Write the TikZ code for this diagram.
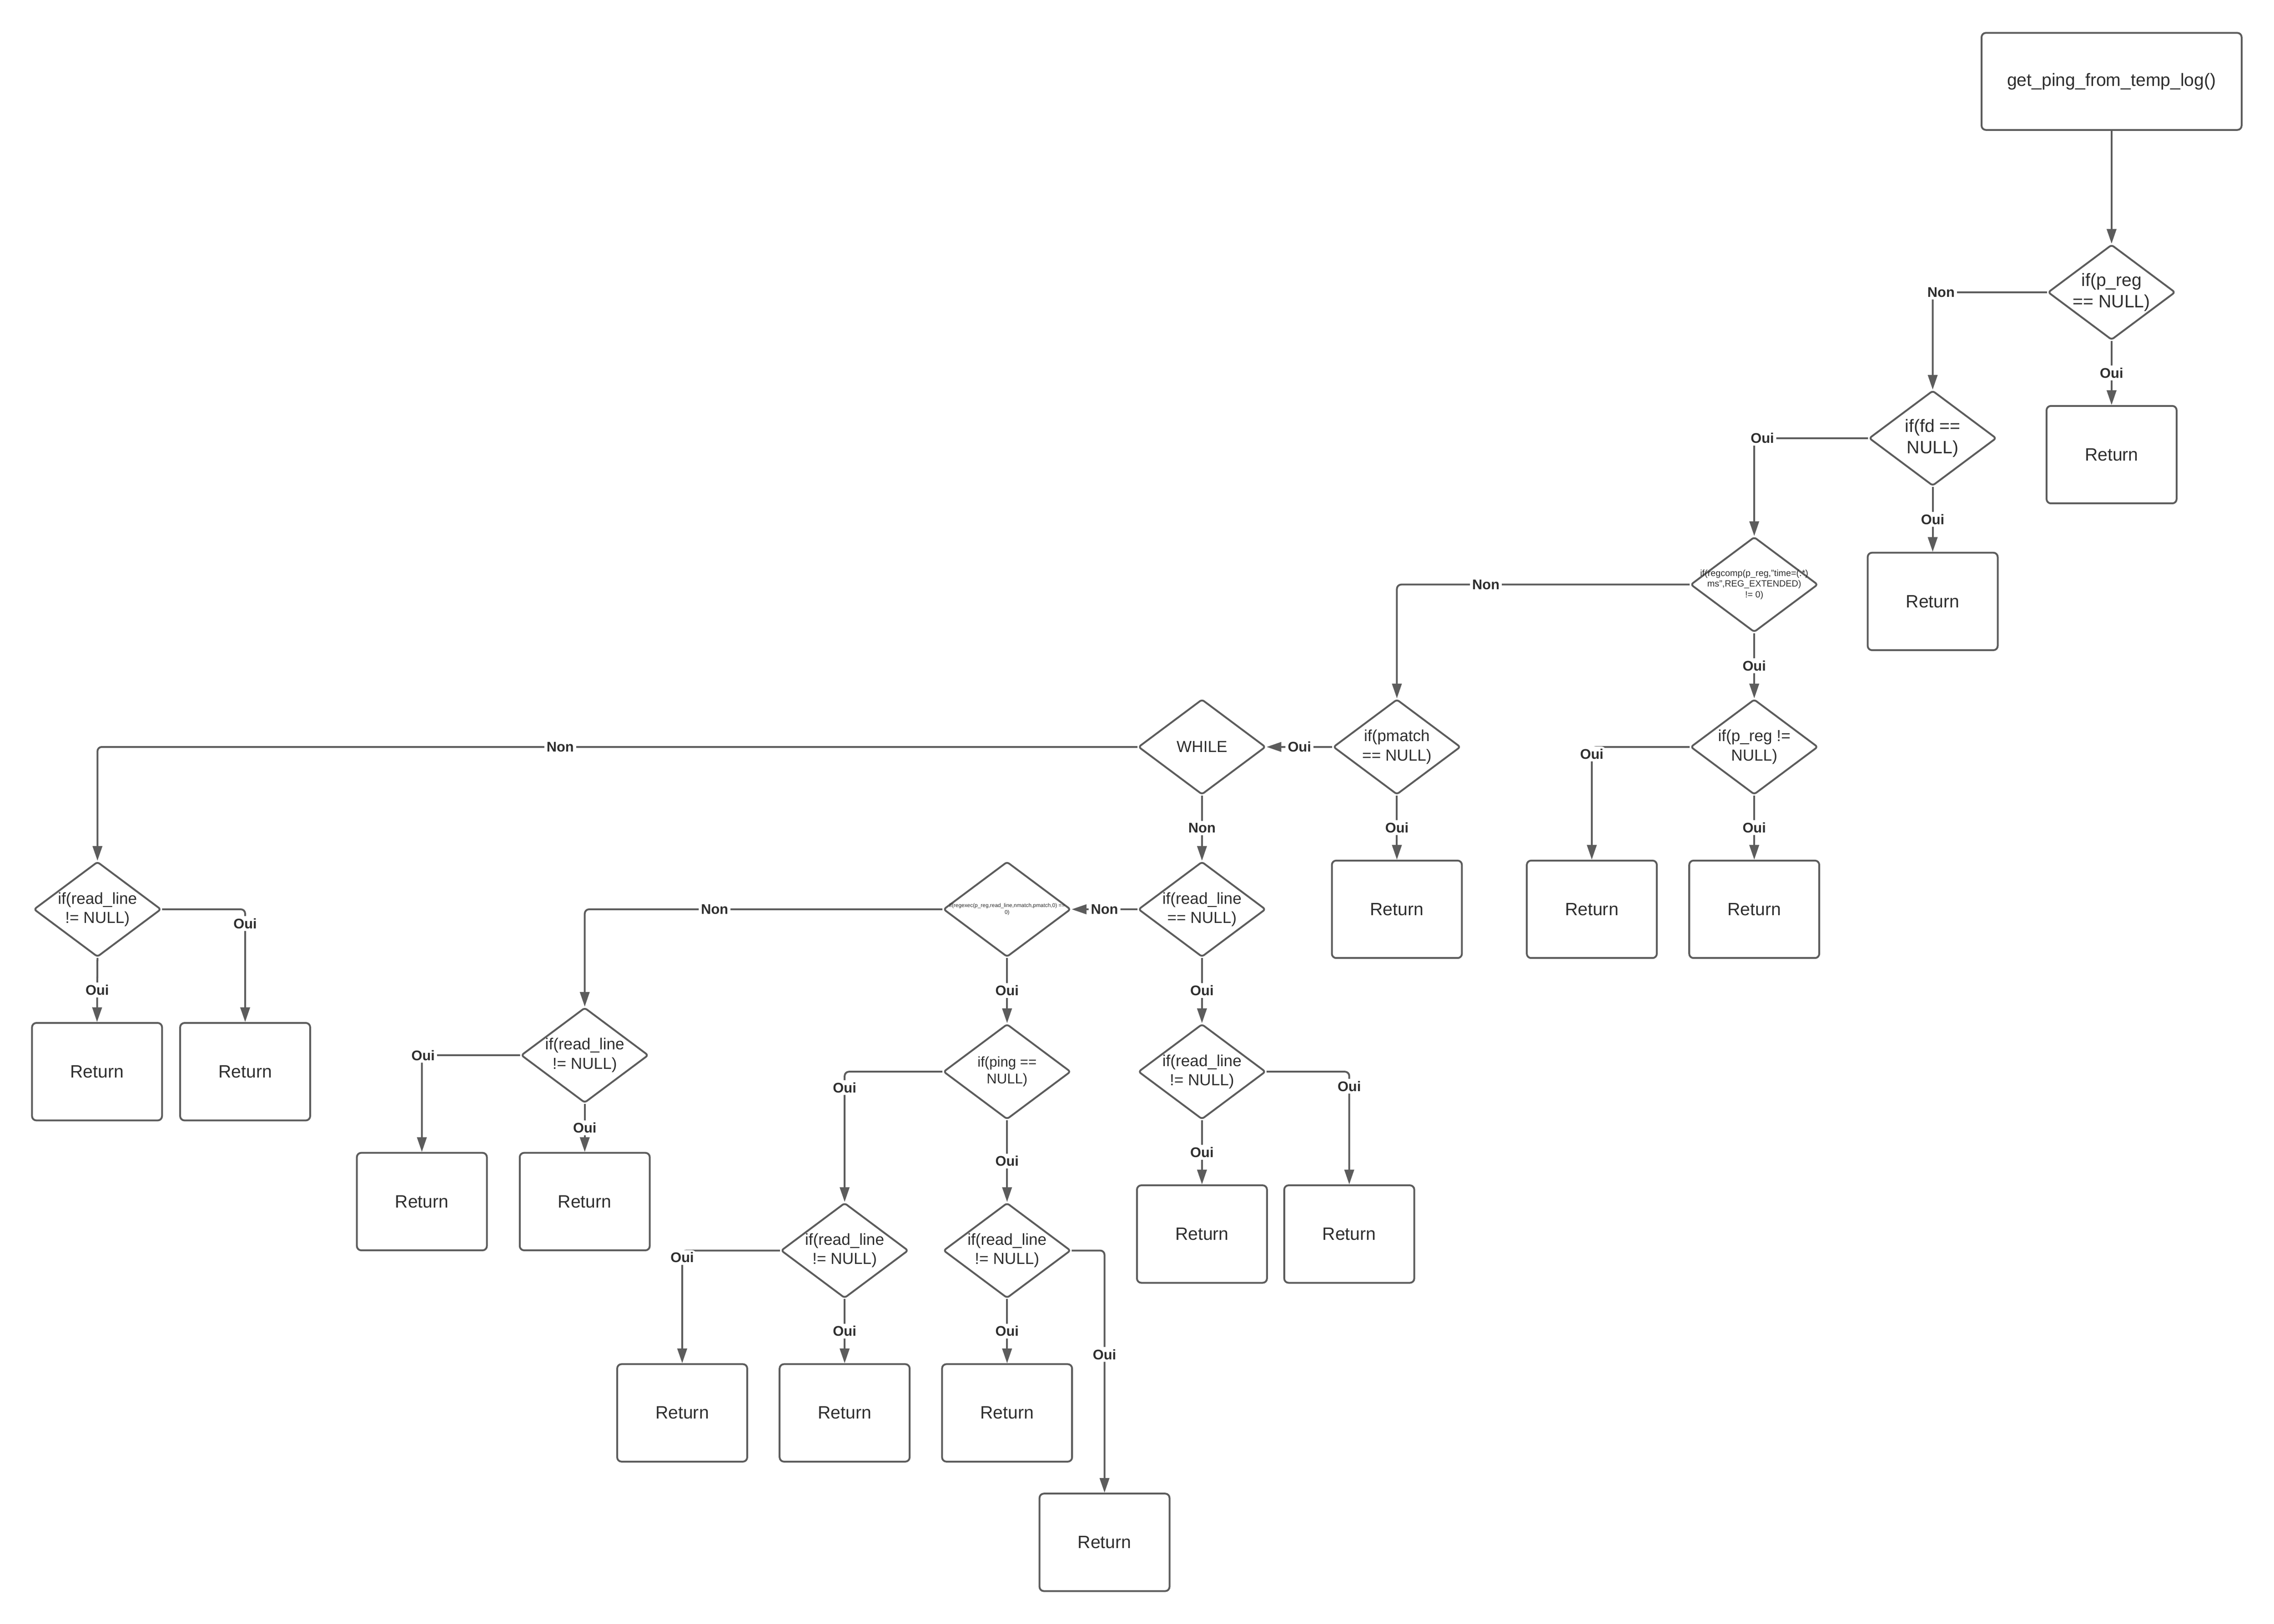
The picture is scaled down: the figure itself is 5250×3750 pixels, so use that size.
\documentclass[tikz,border=0pt]{standalone}
\usepackage{fontspec}
\setmainfont{Liberation Sans}
\usetikzlibrary{shapes.geometric,arrows.meta}
\definecolor{lc}{HTML}{5C5C5C}
\definecolor{tc}{HTML}{2E2E2E}
\begin{document}
\begin{tikzpicture}[x=0.01cm,y=-0.01cm,
  box/.style={draw=lc, line width=1.2pt, rounded corners=0.1cm, minimum width=3cm, minimum height=2.25cm, inner sep=0pt, text=tc, font=\fontsize{11.7}{14}\selectfont},
  dia/.style={shape=diamond, draw=lc, line width=1.2pt, rounded corners=0.06cm, minimum width=2.94cm, minimum height=2.2cm, inner sep=0pt},
  dtext/.style={align=center, text=tc, inner sep=0pt, font=\fontsize{10.5}{12.6}\selectfont},
  bigtext/.style={dtext, font=\fontsize{11.7}{14}\selectfont},
  conn/.style={draw=lc, line width=1.2pt, rounded corners=0.1cm, -{Triangle[length=0.34cm,width=0.22cm]}},
  lab/.style={fill=white, text=tc, inner sep=1.5pt, font=\bfseries\fontsize{9.2}{11}\selectfont}
]
\useasboundingbox (0,0) rectangle (5250,3750);

% start
\node[box, minimum width=6cm, minimum height=2.24cm] (S) at (4875,188) {get\_ping\_from\_temp\_log()};

% diamonds
\node[dia] (D1) at (4875,675) {};
\node[bigtext] (T1) at (D1) {if(p\_reg\\== NULL)};
\node[dia] (D2) at (4462,1012) {};
\node[bigtext] (T2) at (D2) {if(fd ==\\NULL)};
\node[dia] (D3) at (4050,1350) {};
\node[dtext, font=\fontsize{5.9}{7.1}\selectfont] (T3) at (D3) {if(regcomp(p\_reg,"time=(.*)\\ms",REG\_EXTENDED)\\!= 0)};
\node[dia] (D4) at (4050,1725) {};
\node[dtext] (T4) at (D4) {if(p\_reg !=\\NULL)};
\node[dia] (D5) at (3225,1725) {};
\node[dtext] (T5) at (D5) {if(pmatch\\== NULL)};
\node[dia] (D6) at (2775,1725) {};
\node[dtext] (T6) at (D6) {WHILE};
\node[dia] (D7) at (2775,2100) {};
\node[dtext] (T7) at (D7) {if(read\_line\\== NULL)};
\node[dia] (D8) at (2325,2100) {};
\node[dtext, font=\fontsize{3.55}{4.3}\selectfont] (T8) at (D8) {if(regexec(p\_reg,read\_line,nmatch,pmatch,0) ==\\0)};
\node[dia] (D9) at (225,2100) {};
\node[dtext] (T9) at (D9) {if(read\_line\\!= NULL)};
\node[dia] (D10) at (1350,2437) {};
\node[dtext] (T10) at (D10) {if(read\_line\\!= NULL)};
\node[dia] (D11) at (2325,2475) {};
\node[dtext, font=\fontsize{9.3}{11.2}\selectfont] (T11) at (D11) {if(ping ==\\NULL)};
\node[dia] (D12) at (2775,2475) {};
\node[dtext] (T12) at (D12) {if(read\_line\\!= NULL)};
\node[dia] (D13) at (1950,2888) {};
\node[dtext] (T13) at (D13) {if(read\_line\\!= NULL)};
\node[dia] (D14) at (2325,2888) {};
\node[dtext] (T14) at (D14) {if(read\_line\\!= NULL)};

% return boxes
\node[box] (R1) at (4875,1050) {Return};
\node[box] (R2) at (4462,1389) {Return};
\node[box] (R3) at (3675,2100) {Return};
\node[box] (R4) at (4050,2100) {Return};
\node[box] (R5) at (3225,2100) {Return};
\node[box] (R6) at (224,2475) {Return};
\node[box] (R7) at (566,2475) {Return};
\node[box] (R8) at (974,2775) {Return};
\node[box] (R9) at (1350,2775) {Return};
\node[box] (R10) at (2775,2850) {Return};
\node[box] (R11) at (3115,2850) {Return};
\node[box] (R12) at (1575,3263) {Return};
\node[box] (R13) at (1950,3263) {Return};
\node[box] (R14) at (2325,3263) {Return};
\node[box] (R15) at (2550,3562) {Return};

% connectors
\draw[conn] (S.south) -- (D1.north);
\draw[conn] (D1.south) -- node[lab]{Oui} (R1.north);
\draw[conn] (D1.west) -- node[lab,pos=0.927]{Non} (D1.west -| D2.north) -- (D2.north);
\draw[conn] (D2.south) -- node[lab]{Oui} (R2.north);
\draw[conn] (D2.west) -- node[lab,pos=0.929]{Oui} (D2.west -| D3.north) -- (D3.north);
\draw[conn] (D3.south) -- node[lab]{Oui} (D4.north);
\draw[conn] (D3.west) -- node[lab,pos=0.696]{Non} (D3.west -| D5.north) -- (D5.north);
\draw[conn] (D4.south) -- node[lab]{Oui} (R4.north);
\draw[conn] (D4.west) -- (D4.west -| R3.north) -- node[lab,pos=0.062]{Oui} (R3.north);
\draw[conn] (D5.south) -- node[lab]{Oui} (R5.north);
\draw[conn] (D5.west) -- node[lab]{Oui} (D6.east);
\draw[conn] (D6.west) -- node[lab,pos=0.555]{Non} (D6.west -| D9.north) -- (D9.north);
\draw[conn] (D6.south) -- node[lab]{Non} (D7.north);
\draw[conn] (D7.west) -- node[lab]{Non} (D8.east);
\draw[conn] (D7.south) -- node[lab]{Oui} (D12.north);
\draw[conn] (D8.west) -- node[lab,pos=0.637]{Non} (D8.west -| D10.north) -- (D10.north);
\draw[conn] (D8.south) -- node[lab]{Oui} (D11.north);
\draw[conn] (D9.south) -- node[lab]{Oui} (R6.north);
\draw[conn] (D9.east) -- (D9.east -| R7.north) -- node[lab,pos=0.126]{Oui} (R7.north);
\draw[conn] (D10.south) -- node[lab]{Oui} (R9.north);
\draw[conn] (D10.west) -- node[lab,pos=0.988]{Oui} (D10.west -| R8.north) -- (R8.north);
\draw[conn] (D11.west) -- (D11.west -| D13.north) -- node[lab,pos=0.122]{Oui} (D13.north);
\draw[conn] (D11.south) -- node[lab]{Oui} (D14.north);
\draw[conn] (D12.south) -- node[lab]{Oui} (R10.north);
\draw[conn] (D12.east) -- (D12.east -| R11.north) -- node[lab,pos=0.129]{Oui} (R11.north);
\draw[conn] (D13.south) -- node[lab]{Oui} (R13.north);
\draw[conn] (D13.west) -- (D13.west -| R12.north) -- node[lab,pos=0.062]{Oui} (R12.north);
\draw[conn] (D14.south) -- node[lab]{Oui} (R14.north);
\draw[conn] (D14.east) -- (D14.east -| R15.north) -- node[lab,pos=0.429]{Oui} (R15.north);
\end{tikzpicture}
\end{document}
